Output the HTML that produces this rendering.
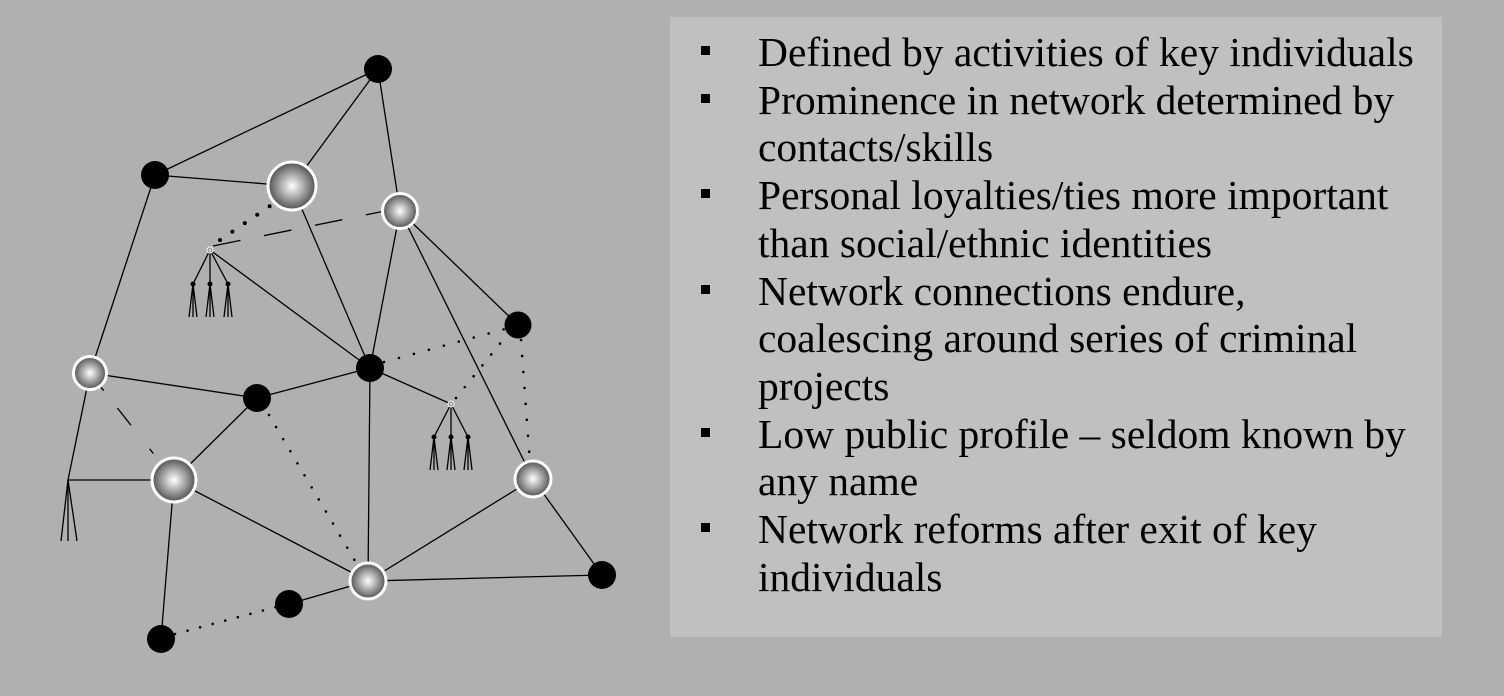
<!DOCTYPE html>
<html><head><meta charset="utf-8"><style>
html,body{margin:0;padding:0;background:#b0b0b0;}
svg{display:block}
</style></head><body>
<svg width="1504" height="696" viewBox="0 0 1504 696" xmlns="http://www.w3.org/2000/svg">
<defs>
<radialGradient id="g" cx="50%" cy="50%" r="50%">
<stop offset="0" stop-color="#ffffff"/><stop offset="0.5" stop-color="#a8a8a8"/><stop offset="1" stop-color="#505050"/>
</radialGradient>
</defs>
<rect width="1504" height="696" fill="#b0b0b0"/>
<rect x="670" y="17" width="772" height="620" fill="#c0c0c0"/>
<g stroke="#000" stroke-width="1.3" fill="none">
<line x1="378" y1="69" x2="155" y2="175"/>
<line x1="378" y1="69" x2="292" y2="186"/>
<line x1="378" y1="69" x2="400" y2="211"/>
<line x1="155" y1="175" x2="292" y2="186"/>
<line x1="155" y1="175" x2="90" y2="373"/>
<line x1="292" y1="186" x2="370" y2="368"/>
<line x1="400" y1="211" x2="370" y2="368"/>
<line x1="400" y1="211" x2="518" y2="325"/>
<line x1="400" y1="211" x2="533" y2="479"/>
<line x1="210" y1="250" x2="370" y2="368"/>
<line x1="90" y1="373" x2="257" y2="398"/>
<line x1="257" y1="398" x2="370" y2="368"/>
<line x1="370" y1="368" x2="368" y2="581"/>
<line x1="370" y1="368" x2="451" y2="404"/>
<line x1="257" y1="398" x2="174" y2="480"/>
<line x1="174" y1="480" x2="368" y2="581"/>
<line x1="368" y1="581" x2="533" y2="479"/>
<line x1="533" y1="479" x2="602" y2="575"/>
<line x1="368" y1="581" x2="602" y2="575"/>
<line x1="174" y1="480" x2="161" y2="639"/>
<line x1="289" y1="604" x2="368" y2="581"/>
<line x1="90" y1="373" x2="68" y2="480"/>
<line x1="68" y1="480" x2="174" y2="480"/>
<line x1="68" y1="480" x2="61" y2="541"/>
<line x1="68" y1="480" x2="68" y2="541"/>
<line x1="68" y1="480" x2="77" y2="541"/>
<line x1="210" y1="250" x2="193" y2="284"/>
<line x1="210" y1="250" x2="210" y2="284"/>
<line x1="210" y1="250" x2="228" y2="284"/>
<line x1="193" y1="284" x2="189" y2="317"/><line x1="193" y1="284" x2="193" y2="317"/><line x1="193" y1="284" x2="197" y2="317"/>
<line x1="210" y1="284" x2="206" y2="317"/><line x1="210" y1="284" x2="210" y2="317"/><line x1="210" y1="284" x2="214" y2="317"/>
<line x1="228" y1="284" x2="224" y2="317"/><line x1="228" y1="284" x2="228" y2="317"/><line x1="228" y1="284" x2="232" y2="317"/>
<line x1="451" y1="404" x2="434" y2="437"/>
<line x1="451" y1="404" x2="451" y2="437"/>
<line x1="451" y1="404" x2="468" y2="437"/>
<line x1="434" y1="437" x2="430" y2="470"/><line x1="434" y1="437" x2="434" y2="470"/><line x1="434" y1="437" x2="438" y2="470"/>
<line x1="451" y1="437" x2="447" y2="470"/><line x1="451" y1="437" x2="451" y2="470"/><line x1="451" y1="437" x2="455" y2="470"/>
<line x1="468" y1="437" x2="464" y2="470"/><line x1="468" y1="437" x2="468" y2="470"/><line x1="468" y1="437" x2="472" y2="470"/>
<line x1="213" y1="246" x2="390" y2="210" stroke-dasharray="28,24"/>
<line x1="100" y1="386" x2="160" y2="462" stroke-dasharray="6,22,22,30"/>
</g>
<g stroke="#000" stroke-width="2.6" fill="none" stroke-linecap="round">
<line x1="220" y1="240" x2="270" y2="206" stroke-width="4" stroke-dasharray="0,15"/>
<line x1="384" y1="362" x2="505" y2="329" stroke-dasharray="0,15.5"/>
<line x1="456" y1="398" x2="507" y2="335" stroke-dasharray="0,14"/>
<line x1="521" y1="340" x2="530" y2="463" stroke-dasharray="0,16"/>
<line x1="269" y1="415" x2="358" y2="566" stroke-dasharray="0,14"/>
<line x1="175" y1="634" x2="276" y2="607" stroke-dasharray="0,13"/>
</g>
<g fill="#000">
<circle cx="378" cy="69" r="14"/><circle cx="155" cy="175" r="14"/><circle cx="518" cy="325" r="13.5"/>
<circle cx="370" cy="368" r="14"/><circle cx="257" cy="398" r="14"/><circle cx="602" cy="575" r="14"/>
<circle cx="289" cy="604" r="14"/><circle cx="161" cy="639" r="14"/>
<circle cx="193" cy="284" r="2.5"/><circle cx="210" cy="284" r="2.5"/><circle cx="228" cy="284" r="2.5"/>
<circle cx="434" cy="437" r="2.5"/><circle cx="451" cy="437" r="2.5"/><circle cx="468" cy="437" r="2.5"/>
</g>
<g fill="url(#g)" stroke="#fff" stroke-width="3">
<circle cx="292" cy="186" r="24"/><circle cx="174" cy="480" r="22"/>
<circle cx="400" cy="211" r="17.5"/><circle cx="90" cy="373" r="16.5"/>
<circle cx="533" cy="479" r="18"/><circle cx="368" cy="581" r="18"/>
<circle cx="210" cy="250" r="3" stroke-width="1"/><circle cx="451" cy="404" r="3" stroke-width="1"/>
</g>
<g font-family="'Liberation Serif', serif" font-size="41.5" fill="#000">
<rect x="701" y="46" width="9" height="9"/>
<rect x="701" y="94" width="9" height="9"/>
<rect x="701" y="189" width="9" height="9"/>
<rect x="701" y="285" width="9" height="9"/>
<rect x="701" y="428" width="9" height="9"/>
<rect x="701" y="523" width="9" height="9"/>
<text x="758" y="66">Defined by activities of key individuals</text>
<text x="758" y="114">Prominence in network determined by</text>
<text x="758" y="161">contacts/skills</text>
<text x="758" y="209">Personal loyalties/ties more important</text>
<text x="758" y="257">than social/ethnic identities</text>
<text x="758" y="305">Network connections endure,</text>
<text x="758" y="352">coalescing around series of criminal</text>
<text x="758" y="400">projects</text>
<text x="758" y="448">Low public profile – seldom known by</text>
<text x="758" y="495">any name</text>
<text x="758" y="543">Network reforms after exit of key</text>
<text x="758" y="591">individuals</text>
</g>
</svg>
</body></html>
